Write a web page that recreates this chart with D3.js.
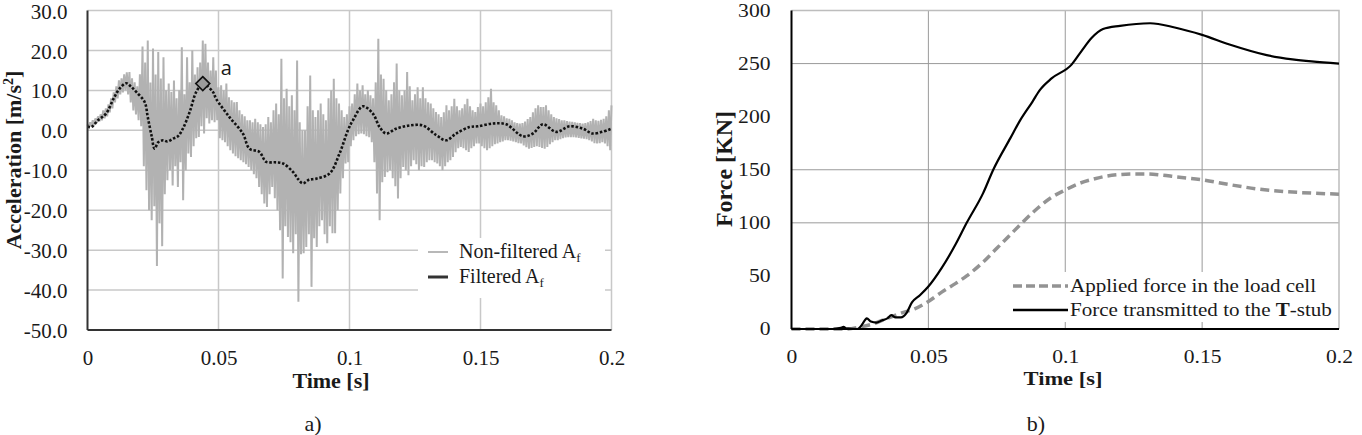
<!DOCTYPE html>
<meta charset="utf-8">
<style>
body { margin: 0; background: #fff; }
text { font-family: "Liberation Serif", "Times New Roman", serif; fill: #1a1a1a; }
.grid-a line { stroke: #c8c8c8; stroke-width: 1.5; }
.grid-b line { stroke: #9a9a9a; stroke-width: 1; }
</style>
<body>
<script src="https://d3js.org/d3.v7.min.js"></script>
<script>
// ---------- panel a) : acceleration ----------
var rawStep = 0.001;   // raw record read at 1 ms, upper and lower excursion per step
var rawHi = [
  1.5,2,2.5,3,3.5,4,5,5.5,6.5,8,
  9.5,11,12.5,13,14,14.5,14.6,13,12,11,
  14,21,17,22.5,12,20.5,14,19.6,13,18.3,
  10,11.7,9.6,12.5,8,10,20.8,9,18.3,12,
  20,14,15.8,17,22.5,21.7,17,15,18.3,15,
  10.8,11.25,10,11.7,8.3,7.5,7,7.1,5,4,
  3.5,2.5,2.5,2,2.9,2,1.5,0.8,1.5,3.3,
  2,5,6.7,4,17.9,8,10.4,6,8.75,5,
  17.5,2,0,0,6,13.75,5,3.3,5,6.7,
  4,2.5,8,10,12.9,8,6.7,5,3.3,4,
  6,6.7,9,11.7,10,11.25,9,10,8.75,8,
  12,22.9,14,12.9,10,7.5,9,12,16.7,10,
  8.75,10,14.6,11,7.5,9,10.8,8,10.8,8,
  7,6.7,5.5,4.6,4,3.3,4.5,6.25,5,6,
  7.9,6,5,5.5,6.5,7.9,6,5,4.6,5.8,
  6.7,6,7,8.3,10.4,7,6.25,5,3.75,3.5,
  3,2.9,2.5,2,1.8,1.7,1.8,2.2,2.8,3.3,
  4.5,5.5,6.25,5.8,5.8,6.25,5,4,3.3,3,
  2.8,2.5,2.5,2.3,2.2,2.1,2,1.9,1.8,1.7,
  1.8,2,2.3,2.9,2.5,2.4,2.6,2.9,3.5,5,6.25
];
var rawLo = [
  0.5,1,1.2,1.8,2.2,2.5,3,3.5,4.5,5.5,
  7,8,9,9.5,10,9,7,5,4,2.5,
  1,-9,-15,-20,-22.5,-19,-34,-23.3,-29,-16,
  -12.5,-10,-13.8,-9,-14.2,-8,-17.5,-10,-5.8,-6.7,
  -4,-2,-1.7,1,-0.8,3,1.7,2.5,2,2.5,
  -2,-2.5,-3,-4,-5,-5.8,-6.5,-7,-7.5,-8,
  -8.5,-9.2,-10,-11,-12,-14.2,-16,-18.3,-19.2,-16,
  -14.2,-17,-20,-25,-37.1,-24,-26.7,-28,-30.8,-26,
  -42.9,-31,-30.8,-29.2,-26,-39.2,-27,-29.2,-24,-22.5,
  -26,-28.3,-24,-25.8,-25.8,-20,-15.8,-12,-8.3,-8,
  -4,-2.5,-1.5,-1,-0.8,-1,-1.5,-1.7,-3,-8,
  -15.8,-22.5,-13,-11.7,-10.5,-10,-12,-14,-17.1,-12,
  -9.2,-10,-11.25,-9,-7.5,-8.5,-10,-9,-9.2,-8,
  -7.5,-7.5,-8,-8.3,-9,-10,-9,-8,-7.5,-6.7,
  -5.5,-4.5,-4.2,-4.5,-5,-5.4,-4.5,-4,-3.3,-3.3,
  -4,-4.5,-5,-4.5,-4,-3.5,-3.3,-3,-2.8,-2.5,
  -2.5,-2.6,-2.8,-3,-3.2,-3.3,-3.8,-4.2,-4.6,-4.4,
  -4.2,-4,-4.2,-4.4,-4.6,-4.2,-3.5,-3,-2.5,-2.5,
  -2.2,-2,-1.8,-1.7,-1.7,-1.7,-1.8,-1.9,-2,-2.1,
  -2.2,-2.5,-2.8,-3.2,-3.3,-3.2,-3,-3.3,-4,-5,-6.5
];
var filtT = [0,0.0014,0.004,0.0071,0.01,0.0122,0.0148,0.0165,0.0186,0.0218,0.023,0.0245,0.0256,0.027,0.0288,
  0.0305,0.0326,0.0345,0.0364,0.039,0.0415,0.044,0.0479,0.0491,0.0542,0.0593,0.0618,0.0656,0.0682,0.0715,0.0746,
  0.0784,0.0805,0.0822,0.0845,0.0873,0.0924,0.0962,0.0994,0.1013,0.1051,0.1089,0.1115,0.114,0.1178,0.1229,0.128,
  0.1331,0.1369,0.1407,0.1458,0.149,0.1547,0.1598,0.1662,0.17,0.1738,0.1789,0.184,0.1891,0.1929,0.2];
var filtV = [1,0.8,2.5,4.2,8,10.4,11.8,11,9.6,7.1,3.3,-1.5,-4.6,-3,-2.5,
  -2.8,-2.1,-1.5,0.4,4.6,9.6,11.7,9.6,7.9,3.3,-0.8,-4.6,-5.4,-7.9,-8,-8.3,
  -10.4,-12.3,-13.3,-12.4,-12.1,-10.8,-5.8,0,2.5,6,4.2,0.8,-0.8,0.4,1.2,1.2,
  -1.2,-2.5,-0.8,0.8,1,1.7,1.5,-1.5,-0.8,1.5,-0.4,1,0.4,-0.8,0.4];
var peakA = {t: 0.044, v: 11.7, label: "a"};
var accTicks = [30,20,10,0,-10,-20,-30,-40,-50];
var timeTicks = [0,0.05,0.1,0.15,0.2];

// ---------- panel b) : force ----------
var appliedT = [0,0.02,0.025,0.03,0.035,0.04,0.045,0.05,0.055,0.06,0.064,0.07,0.075,0.08,0.085,0.09,0.095,
  0.1,0.105,0.11,0.115,0.12,0.125,0.13,0.135,0.14,0.15,0.16,0.17,0.18,0.19,0.2];
var appliedF = [0,0,2,5,10,15,19,26,35,43,50,63,76,89,102,114,124,
  131,137,141,144,145.5,146,146,145,143.5,140.5,136,132,129.5,128,127];
var transT = [0,0.015,0.018,0.019,0.02,0.024,0.026,0.027,0.0275,0.029,0.031,0.033,0.035,0.0365,0.038,0.04,0.042,
  0.044,0.047,0.05,0.055,0.06,0.064,0.07,0.0737,0.08,0.0834,0.088,0.0907,0.095,0.1023,0.106,0.1096,0.1138,0.12,
  0.131,0.14,0.15,0.16,0.1736,0.183,0.19,0.2];
var transF = [0,0,1,2,0.5,0,5,9,10,7,6,8,10,13,11,11,15,
  25,32,40,58,80,100,128,150,180,196,214,225,236,249,262,274,282.5,285.5,
  288,284,277,268,258,254,252,250];
var forceTicks = [0,50,100,150,200,250,300];
var forceGrid = [100,150,250];

var svg = d3.select("body").append("svg")
    .attr("width", 1362).attr("height", 435);

// ================= panel a =================
var xA = d3.scaleLinear().domain([0, 0.2]).range([87.5, 611.5]);
var yA = d3.scaleLinear().domain([-50, 30]).range([330, 10.5]);
var gA = svg.append("g");

gA.append("g").attr("class", "grid-a")
  .selectAll("line").data(accTicks.slice(1, -1)).enter().append("line")
  .attr("x1", xA(0)).attr("x2", xA(0.2))
  .attr("y1", d => yA(d)).attr("y2", d => yA(d));
gA.append("g").attr("class", "grid-a")
  .selectAll("line").data(timeTicks.slice(1, -1)).enter().append("line")
  .attr("x1", d => xA(d)).attr("x2", d => xA(d))
  .attr("y1", yA(30)).attr("y2", yA(-50));
// top / right frame
gA.append("path")
  .attr("d", "M" + xA(0) + "," + yA(30) + "H" + xA(0.2) + "V" + yA(-50))
  .attr("fill", "none").attr("stroke", "#c8c8c8").attr("stroke-width", 1.5);

// raw signal as a zig-zag between upper and lower excursions
var rawPts = [];
rawHi.forEach(function(h, i) {
  rawPts.push([i * rawStep, h]);
  rawPts.push([i * rawStep + rawStep / 2, rawLo[i]]);
});
var lineA = d3.line().x(d => xA(d[0])).y(d => yA(d[1]));
gA.append("path").datum(rawPts.filter(d => d[0] <= 0.2))
  .attr("d", lineA)
  .attr("fill", "none").attr("stroke", "#b2b2b2").attr("stroke-width", 2)
  .attr("stroke-linejoin", "bevel");

var filtPts = filtT.map((t, i) => [t, filtV[i]]);
gA.append("path").datum(filtPts)
  .attr("d", d3.line().x(d => xA(d[0])).y(d => yA(d[1])).curve(d3.curveCatmullRom))
  .attr("fill", "none").attr("stroke", "#111").attr("stroke-width", 2.6)
  .attr("stroke-dasharray", "2.5,1.8");

// axes left / bottom
gA.append("line").attr("x1", xA(0)).attr("x2", xA(0)).attr("y1", yA(30)).attr("y2", yA(-50))
  .attr("stroke", "#333").attr("stroke-width", 2);
gA.append("line").attr("x1", xA(0)).attr("x2", xA(0.2)).attr("y1", yA(-50)).attr("y2", yA(-50))
  .attr("stroke", "#333").attr("stroke-width", 2);

var axYA = gA.append("g").attr("transform", "translate(" + xA(0) + ",0)")
  .call(d3.axisLeft(yA).tickValues(accTicks).tickSize(0).tickPadding(20)
    .tickFormat(d => d.toFixed(1)));
var axXA = gA.append("g").attr("transform", "translate(0," + yA(-50) + ")")
  .call(d3.axisBottom(xA).tickValues(timeTicks).tickSize(0).tickPadding(20)
    .tickFormat(d => String(d)));
[axYA, axXA].forEach(function(ax) {
  ax.select(".domain").remove();
  ax.selectAll("text").attr("font-size", 21).attr("fill", "#1a1a1a");
});
axYA.selectAll("text").attr("dy", "0.36em");

// marker a
var px = xA(peakA.t), py = yA(peakA.v);
gA.append("path")
  .attr("d", "M" + px + "," + (py - 7) + "L" + (px + 7) + "," + py + "L" + px + "," + (py + 7) + "L" + (px - 7) + "," + py + "Z")
  .attr("fill", "#9a9a9a").attr("stroke", "#111").attr("stroke-width", 1.6);
gA.append("text").attr("x", px + 18).attr("y", py - 9)
  .style("font-family", "'Open Sans', sans-serif").attr("font-size", 20).text(peakA.label);

// legend
gA.append("rect").attr("x", 418).attr("y", 238).attr("width", 187).attr("height", 60).attr("fill", "#fff");
gA.append("line").attr("x1", 428).attr("x2", 448).attr("y1", 252).attr("y2", 252)
  .attr("stroke", "#b8b8b8").attr("stroke-width", 2);
gA.append("line").attr("x1", 428).attr("x2", 448).attr("y1", 277).attr("y2", 277)
  .attr("stroke", "#333").attr("stroke-width", 3);
var l1 = gA.append("text").attr("x", 459).attr("y", 258).attr("font-size", 20).text("Non-filtered A");
l1.append("tspan").attr("font-size", 13).attr("dy", 4).text("f");
var l2 = gA.append("text").attr("x", 459).attr("y", 283).attr("font-size", 20).text("Filtered A");
l2.append("tspan").attr("font-size", 13).attr("dy", 4).text("f");

gA.append("text").attr("x", 331).attr("y", 388).attr("text-anchor", "middle")
  .attr("font-size", 22).attr("font-weight", "bold").text("Time [s]");
var ttl = gA.append("text").attr("text-anchor", "middle")
  .attr("transform", "translate(21,160) rotate(-90)")
  .attr("font-size", 22).attr("font-weight", "bold").text("Acceleration [m/s");
ttl.append("tspan").attr("font-size", 14).attr("dy", -8).text("2");
ttl.append("tspan").attr("dy", 8).text("]");
gA.append("text").attr("x", 313).attr("y", 431).attr("text-anchor", "middle")
  .attr("font-size", 22).text("a)");

// ================= panel b =================
var xB = d3.scaleLinear().domain([0, 0.2]).range([791.5, 1339]);
var yB = d3.scaleLinear().domain([0, 300]).range([329, 10.5]);
var gB = svg.append("g");

gB.append("g").attr("class", "grid-b")
  .selectAll("line").data(forceGrid).enter().append("line")
  .attr("x1", xB(0)).attr("x2", xB(0.2))
  .attr("y1", d => yB(d)).attr("y2", d => yB(d));
gB.append("g").attr("class", "grid-b")
  .selectAll("line").data(timeTicks.slice(1, -1)).enter().append("line")
  .attr("x1", d => xB(d)).attr("x2", d => xB(d))
  .attr("y1", yB(300)).attr("y2", yB(0));
gB.append("path")
  .attr("d", "M" + xB(0) + "," + yB(300) + "H" + xB(0.2) + "V" + yB(0))
  .attr("fill", "none").attr("stroke", "#bdbdbd").attr("stroke-width", 1.5);

// legend box
gB.append("rect").attr("x", 1006).attr("y", 272).attr("width", 328).attr("height", 50).attr("fill", "#fff");

var lineB = d3.line().x(d => xB(d[0])).y(d => yB(d[1])).curve(d3.curveMonotoneX);
gB.append("path").datum(appliedT.map((t, i) => [t, appliedF[i]]))
  .attr("d", lineB).attr("fill", "none").attr("stroke", "#939393")
  .attr("stroke-width", 3.5).attr("stroke-dasharray", "9,5");
gB.append("path").datum(transT.map((t, i) => [t, transF[i]]))
  .attr("d", lineB).attr("fill", "none").attr("stroke", "#000").attr("stroke-width", 2.2);

gB.append("line").attr("x1", xB(0)).attr("x2", xB(0)).attr("y1", yB(300)).attr("y2", yB(0))
  .attr("stroke", "#000").attr("stroke-width", 2);
gB.append("line").attr("x1", xB(0)).attr("x2", xB(0.2)).attr("y1", yB(0)).attr("y2", yB(0))
  .attr("stroke", "#000").attr("stroke-width", 2);

var axYB = gB.append("g").attr("transform", "translate(" + xB(0) + ",0)")
  .call(d3.axisLeft(yB).tickValues(forceTicks).tickSize(0).tickFormat(d => String(d)));
var axXB = gB.append("g").attr("transform", "translate(0," + yB(0) + ")")
  .call(d3.axisBottom(xB).tickValues(timeTicks).tickSize(0).tickPadding(21).tickFormat(d => String(d)));
[axYB, axXB].forEach(function(ax) {
  ax.select(".domain").remove();
  ax.selectAll("text").attr("font-size", 18)
    .attr("fill", "#222").attr("transform", "scale(1.2,1)");
});
axYB.selectAll("text").attr("x", -21 / 1.2);

gB.append("line").attr("x1", 1013).attr("x2", 1068).attr("y1", 286).attr("y2", 286)
  .attr("stroke", "#939393").attr("stroke-width", 3.5).attr("stroke-dasharray", "9,4");
gB.append("line").attr("x1", 1013).attr("x2", 1068).attr("y1", 310).attr("y2", 310)
  .attr("stroke", "#000").attr("stroke-width", 2.5);
gB.append("text").attr("transform", "translate(1070,292) scale(1.17,1)")
  .attr("font-size", 18).text("Applied force in the load cell");
var lb2 = gB.append("text").attr("transform", "translate(1070,316) scale(1.17,1)")
  .attr("font-size", 18).text("Force transmitted to the ");
lb2.append("tspan").attr("font-weight", "bold").text("T");
lb2.append("tspan").text("-stub");

gB.append("text").attr("transform", "translate(1063,385) scale(1.25,1)").attr("text-anchor", "middle")
  .attr("font-size", 18).attr("font-weight", "bold").text("Time [s]");
gB.append("text").attr("text-anchor", "middle")
  .attr("transform", "translate(732,169) rotate(-90)")
  .attr("font-size", 24).attr("font-weight", "bold").text("Force [KN]");
gB.append("text").attr("x", 1036).attr("y", 431).attr("text-anchor", "middle")
  .attr("font-size", 22).text("b)");
</script>
</body>
